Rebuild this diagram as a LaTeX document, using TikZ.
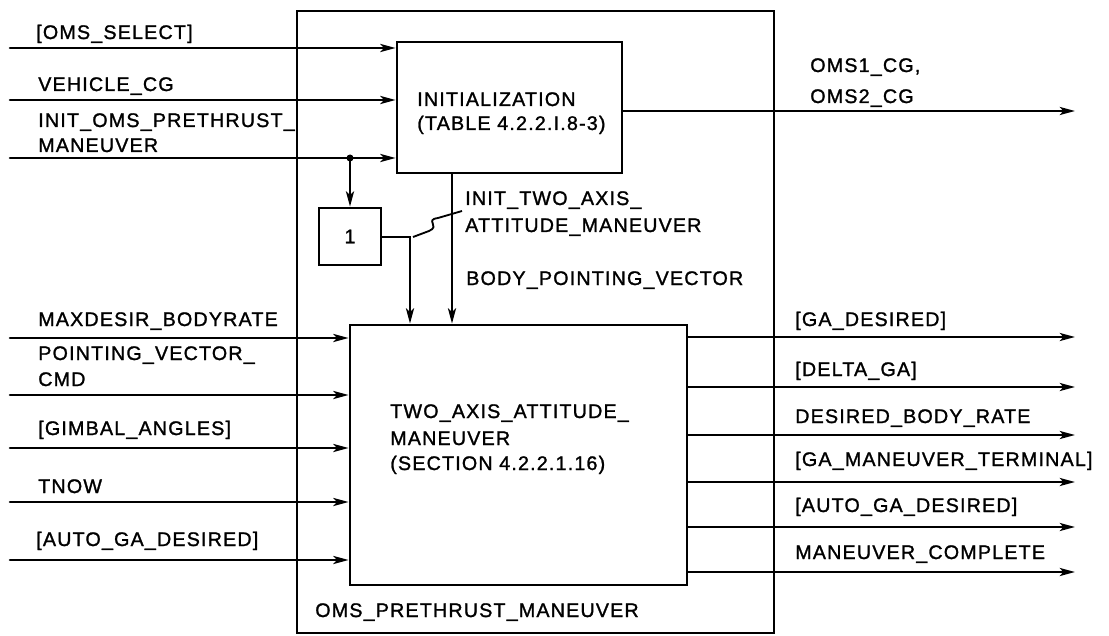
\documentclass[tikz,border=0pt]{standalone}
\usepackage{fontspec}
\setmainfont{Liberation Sans}[LetterSpace=6,FakeBold=1.3]
\usetikzlibrary{arrows.meta,calc}
\tikzset{
  ln/.style={line width=1.8pt, line cap=round},
  arr/.style={ln, -{Stealth[length=0.38cm,width=0.2cm,inset=0.09cm]}},
  blk/.style={draw, line width=1.9pt, rectangle, inner sep=0pt},
  lbl/.style={anchor=base west, inner sep=0pt, font=\fontsize{14}{16}\selectfont},
}
\begin{document}
\begin{tikzpicture}[x=0.025cm,y=-0.025cm]
\useasboundingbox (0,0) rectangle (1109,636);
% boxes
\node[blk, minimum width=11.925cm, minimum height=15.55cm] (outer) at (535.5,322) {};
\node[blk, minimum width=5.625cm, minimum height=3.275cm] (init) at (509.5,107.5) {};
\node[blk, minimum width=1.55cm, minimum height=1.425cm, font=\fontsize{14}{16}\selectfont] (one) at (350,236.5) {1};
\node[blk, minimum width=8.425cm, minimum height=6.5cm] (taa) at (518.5,455) {};
% box texts
\node[lbl] (t1) at (417,106) {INITIALIZATION};
\node[lbl] (t2) at (417,130) {(TABLE 4.2.2.I.8-3)};
\node[lbl] (t3) at (390,418) {TWO\_AXIS\_ATTITUDE\_};
\node[lbl] (t4) at (390,445) {MANEUVER};
\node[lbl] (t5) at (390,470) {(SECTION 4.2.2.1.16)};
\node[lbl] (t6) at (315,617) {OMS\_PRETHRUST\_MANEUVER};
% inputs to init
\coordinate (i1) at (10,48);
\coordinate (i2) at (10,100);
\coordinate (i3) at (10,158);
\draw[arr] (i1) -- (i1 -| init.west);
\draw[arr] (i2) -- (i2 -| init.west);
\draw[arr] (i3) -- (i3 -| init.west);
\node[lbl] (l1) at (36,39) {[OMS\_SELECT]};
\node[lbl] (l2) at (38,91) {VEHICLE\_CG};
\node[lbl] (l3) at (38,127) {INIT\_OMS\_PRETHRUST\_};
\node[lbl] (l4) at (38,152) {MANEUVER};
% branch
\coordinate (br) at (350,158);
\fill (br) circle (3.5);
\draw[arr] (br) -- (one.north);
% init output
\coordinate (o0) at (1075,111);
\draw[arr] (init.east |- o0) -- (o0);
\node[lbl] (l5) at (810,72) {OMS1\_CG,};
\node[lbl] (l6) at (810,103) {OMS2\_CG};
% init -> taa
\draw[arr] (init.south -| 452,0) -- (taa.north -| 452,0);
% one -> taa
\coordinate (c1) at (410,237);
\draw[arr] (one.east |- c1) -- (c1) -- (taa.north -| c1);
% squiggle leader
\coordinate (s0) at (413,237);
\coordinate (s1) at (462,211);
\draw[line width=1.3pt] (s0) -- (429,231) .. controls (441,226) and (424,220) .. (438,218) -- (s1);
\node[lbl] (l7) at (465,205) {INIT\_TWO\_AXIS\_};
\node[lbl] (l8) at (465,232) {ATTITUDE\_MANEUVER};
\node[lbl] (l9) at (466,285) {BODY\_POINTING\_VECTOR};
% inputs to taa
\foreach \y/\n in {338/a,395/b,448/c,502/d,560/e}{
  \coordinate (in\n) at (10,\y);
  \draw[arr] (in\n) -- (in\n -| taa.west);
}
\node[lbl] (m1) at (38,326) {MAXDESIR\_BODYRATE};
\node[lbl] (m2) at (38,360) {POINTING\_VECTOR\_};
\node[lbl] (m3) at (38,386) {CMD};
\node[lbl] (m4) at (38,435) {[GIMBAL\_ANGLES]};
\node[lbl] (m5) at (38,493) {TNOW};
\node[lbl] (m6) at (36,546) {[AUTO\_GA\_DESIRED]};
% outputs of taa
\foreach \y/\n in {337/a,387/b,435/c,482/d,527/e,572/f}{
  \coordinate (out\n) at (1075,\y);
  \draw[arr] (taa.east |- out\n) -- (out\n);
}
\node[lbl] (r1) at (795,326) {[GA\_DESIRED]};
\node[lbl] (r2) at (795,376) {[DELTA\_GA]};
\node[lbl] (r3) at (795,423) {DESIRED\_BODY\_RATE};
\node[lbl] (r4) at (795,466) {[GA\_MANEUVER\_TERMINAL]};
\node[lbl] (r5) at (795,512) {[AUTO\_GA\_DESIRED]};
\node[lbl] (r6) at (795,559) {MANEUVER\_COMPLETE};
\end{tikzpicture}
\end{document}
